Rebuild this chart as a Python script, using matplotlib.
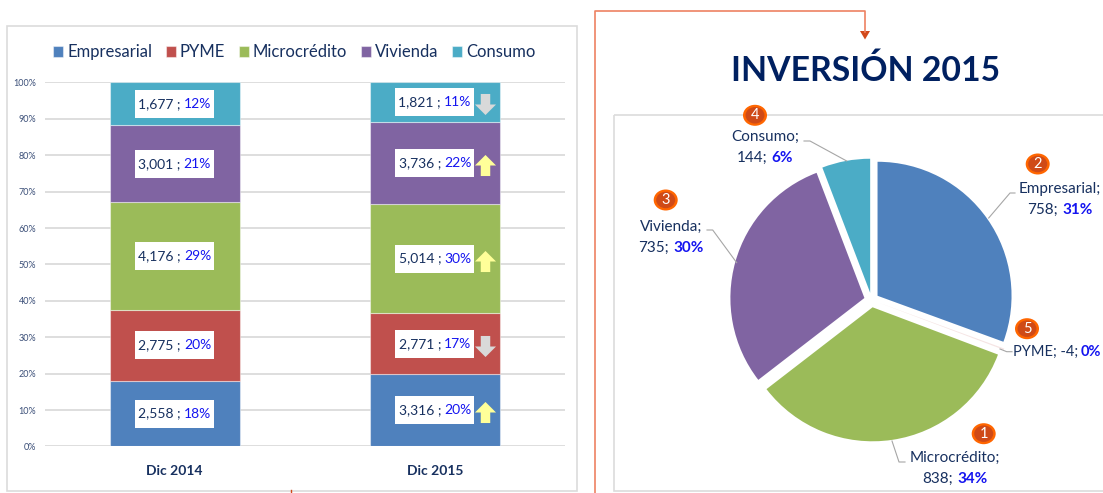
import numpy as np
import matplotlib
matplotlib.use("Agg")
import matplotlib.pyplot as plt
from matplotlib.patches import Rectangle, Ellipse
from matplotlib.path import Path

plt.rcParams['font.family'] = ['Lato', 'DejaVu Sans']

W, H = 1103, 493
NAVY = "#17305f"
BLUE_TXT = "#1414f0"

segments = ["Empresarial", "PYME", "Microcrédito", "Vivienda", "Consumo"]
colors = ["#4F81BD", "#C0504D", "#9BBB59", "#8064A2", "#4BACC6"]
years = ["Dic 2014", "Dic 2015"]
values_2014 = [2558, 2775, 4176, 3001, 1677]
values_2015 = [3316, 2771, 5014, 3736, 1821]
pct_2014 = ["18%", "20%", "29%", "21%", "12%"]
pct_2015 = ["20%", "17%", "30%", "22%", "11%"]
trend_2015 = ["up", "down", "up", "up", "down"]

inv_values = [758, 4, 838, 735, 144]
inv_shown = ["758", "-4", "838", "735", "144"]
inv_pct = ["31%", "0%", "34%", "30%", "6%"]
inv_rank = ["2", "5", "1", "3", "4"]

fig = plt.figure(figsize=(W / 100, H / 100), dpi=100)


def box(x0, y0, x1, y1):
    return [x0 / W, 1 - y1 / H, (x1 - x0) / W, (y1 - y0) / H]


# stacked bars
ax = fig.add_axes(box(44.6, 82.4, 565, 446.4))
ax.set_xlim(-0.5, 1.5)
ax.set_ylim(0, 100)
table = np.array([values_2014, values_2015], dtype=float)
shares = table / table.sum(axis=1, keepdims=True) * 100
bottoms = np.zeros(2)
handles = []
mids = []
for i, name in enumerate(segments):
    b = ax.bar([0, 1], shares[:, i], 0.5, bottom=bottoms, color=colors[i], label=name,
               edgecolor=(1, 1, 1, 0.45), linewidth=0.8, zorder=3)
    handles.append(b)
    mids.append(bottoms + shares[:, i] / 2)
    bottoms = bottoms + shares[:, i]
ax.set_yticks(np.arange(0, 101, 10))
ax.set_yticklabels([f"{t}%" for t in range(0, 101, 10)], fontsize=6.5, color="#3b4f78")
ax.set_xticks([0, 1])
ax.set_xticklabels(years, fontsize=10, fontweight="bold", color=NAVY)
ax.tick_params(length=0)
ax.tick_params(axis="y", pad=6)
ax.tick_params(axis="x", pad=13.5)
ax.grid(axis="y", color="#dedede", linewidth=1.4, zorder=0)
for s in ax.spines.values():
    s.set_visible(False)
ax.legend(handles=handles, ncol=5, loc="center", bbox_to_anchor=(0.48, 1.083), frameon=False,
          fontsize=12, labelcolor=NAVY, handlelength=0.6, handleheight=0.7, handletextpad=0.24,
          columnspacing=0.82, borderpad=0)

# trend arrows
up_arrow = Path([(-0.45, 0), (-1, 0), (0, 1), (1, 0), (0.45, 0), (0.45, -1), (-0.45, -1), (-0.45, 0)], closed=True)
down_arrow = Path(up_arrow.vertices * [1, -1], closed=True)
for i, tr in enumerate(trend_2015):
    ax.scatter(1.194, mids[i][1] - 0.6, marker=up_arrow if tr == "up" else down_arrow, s=230,
               color="#FFFF99" if tr == "up" else "#D9D9D9", linewidths=0, zorder=5)

# pie
R = 134
span = 1.2
pie_ax = fig.add_axes(box(871.5 - R * span, 300 - R * span, 871.5 + R * span, 300 + R * span))
wedges, _ = pie_ax.pie(inv_values, colors=colors, startangle=90, counterclock=False, radius=1,
                       explode=[0.055] * 5)
wedges[1].set_alpha(0.15)
pie_ax.set_xlim(-span, span)
pie_ax.set_ylim(-span, span)

# everything placed in pixels goes on this layer
ov = fig.add_axes([0, 0, 1, 1], zorder=5)
ov.set_xlim(0, W)
ov.set_ylim(H, 0)
ov.axis("off")
ov.patch.set_alpha(0)

ov.add_patch(Rectangle((6.5, 25.5), 570, 465, fill=False, edgecolor="#dcdcdc", linewidth=1.2))
ov.add_patch(Rectangle((613.5, 114.5), 520, 376, fill=False, edgecolor="#dcdcdc", linewidth=1.2, clip_on=True))

ov.plot([595, 595, 865, 865], [493, 11, 11, 32], color="#EE8262", linewidth=1.2)
ov.fill([860, 870, 865], [31, 31, 39.5], color="#D2491A", linewidth=0)
ov.plot([291, 291], [490, 493], color="#D2491A", linewidth=1)

ov.text(865.5, 71, "INVERSIÓN 2015", fontsize=24.3, fontweight="bold", color="#002060", ha="center", va="center")

renderer = fig.canvas.get_renderer()


def two_tone(cx, cy, first, second, size, bold=False, gap=4.0):
    t1 = ov.text(0, cy, first, fontsize=size, color=NAVY, ha="left", va="center")
    t2 = ov.text(0, cy, second, fontsize=size, color=BLUE_TXT, ha="left", va="center",
                 fontweight="bold" if bold else "normal")
    w1 = t1.get_window_extent(renderer).width
    w2 = t2.get_window_extent(renderer).width
    x0 = cx - (w1 + gap + w2) / 2
    t1.set_x(x0)
    t2.set_x(x0 + w1 + gap)


# bar data labels
for col, (vals, pcts) in enumerate([(values_2014, pct_2014), (values_2015, pct_2015)]):
    for i in range(5):
        px, py = ax.transData.transform((col, mids[i][col]))
        py = H - py
        ov.add_patch(Rectangle((px - 39.5, py - 14), 79, 28, facecolor="white", edgecolor="none"))
        two_tone(px, py, f"{vals[i]:,} ;", pcts[i], 10, gap=3)

# pie labels
label_pos = {"Empresarial": (1060, 189, 210), "Microcrédito": (955, 458, 479),
             "Vivienda": (671, 227, 248), "Consumo": (765, 137, 158)}
for i, name in enumerate(segments):
    if name == "PYME":
        two_tone(1057, 351.5, f"{name}; {inv_shown[i]};", inv_pct[i], 10.5, bold=True, gap=3)
        continue
    cx, y1, y2 = label_pos[name]
    ov.text(cx, y1, name + ";", fontsize=11, color=NAVY, ha="center", va="center")
    two_tone(cx, y2, inv_shown[i] + ";", inv_pct[i], 11, bold=True)

# leader lines
leaders = [([1015, 1010, 988.7], [193, 193, 218]),
           ([1012, 1006.7, 1000], [351.7, 351.7, 349]),
           ([905, 899, 892], [462, 462, 441]),
           ([707, 712.7, 736.7], [230, 230, 262.7]),
           ([804, 810, 846.7], [141, 141, 161])]
for xs, ys in leaders:
    ov.plot(xs, ys, color="#a6a6a6", linewidth=0.8)

# rank badges
badge_pos = [(1037.7, 164), (1027, 328.7), (983.7, 433.7), (665.7, 200), (755, 115.3)]
for (bx, by), rank in zip(badge_pos, inv_rank):
    ov.add_patch(Ellipse((bx, by), 24, 21, facecolor="#FF6600", edgecolor="none", zorder=6))
    ov.add_patch(Ellipse((bx, by), 19, 16.5, facecolor="#CF4A17", edgecolor="none", zorder=6))
    ov.text(bx, by, rank, fontsize=10.5, color="white", ha="center", va="center", zorder=7)

fig.savefig("out.png", dpi=100)
